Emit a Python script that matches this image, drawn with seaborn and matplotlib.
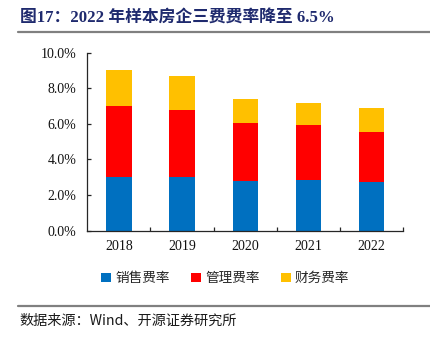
import matplotlib
matplotlib.use("Agg")
import matplotlib.pyplot as plt
from matplotlib.lines import Line2D
from matplotlib.patches import Patch
from matplotlib.ticker import FixedLocator, PercentFormatter
import numpy as np
import pandas as pd
import seaborn as sns

sns.set_theme(style="white")
plt.rcParams["font.family"] = ["Liberation Serif", "Noto Sans CJK SC", "DejaVu Sans"]

# 三费费率（%）
years = ["2018", "2019", "2020", "2021", "2022"]
selling = [3.00, 3.03, 2.77, 2.83, 2.72]
admin = [4.02, 3.77, 3.30, 3.09, 2.84]
finance = [1.99, 1.91, 1.31, 1.27, 1.35]

series_names = ["销售费率", "管理费率", "财务费率"]
colors = ["#0070C0", "#FF0000", "#FFC000"]

df = pd.DataFrame({"year": years, "selling": selling, "admin": admin, "finance": finance})
df["lvl1"] = df["selling"]
df["lvl2"] = df["lvl1"] + df["admin"]
df["lvl3"] = df["lvl2"] + df["finance"]

fig = plt.figure(figsize=(4.31, 3.40), dpi=100)
ax = fig.add_axes([0.2026, 0.3215, 0.7324, 0.5235])

# stacked bars: draw cumulative heights from the top layer down
for col, color in zip(["lvl3", "lvl2", "lvl1"], colors[::-1]):
    sns.barplot(data=df, x="year", y=col, color=color, width=0.4,
                saturation=1, ax=ax, edgecolor="none", linewidth=0)

ax.set_ylim(0, 10)
ax.set_xlim(-0.5, len(years) - 0.5)
ax.set_xlabel("")
ax.set_ylabel("")
ax.yaxis.set_major_locator(FixedLocator(np.arange(0, 10.01, 2)))
ax.yaxis.set_major_formatter(PercentFormatter(decimals=1))

for s in ["top", "right"]:
    ax.spines[s].set_visible(False)
for s in ["left", "bottom"]:
    ax.spines[s].set_color("#262626")
    ax.spines[s].set_linewidth(0.9)

ax.tick_params(axis="y", direction="in", length=3, width=0.9, color="#262626",
               labelsize=10, pad=8, left=True)
ax.tick_params(axis="x", which="major", length=0, labelsize=10, pad=7, bottom=True)
ax.xaxis.set_minor_locator(FixedLocator(np.arange(0.5, len(years), 1)))
ax.tick_params(axis="x", which="minor", direction="in", length=3, width=0.9,
               color="#262626", bottom=True)
for lab in ax.get_xticklabels() + ax.get_yticklabels():
    lab.set_color("#111111")

handles = [Patch(facecolor=c, edgecolor="none") for c in colors]
fig.legend(handles, series_names, loc="center", bbox_to_anchor=(0.523, 0.182),
           ncol=3, frameon=False, handlelength=0.7, handleheight=0.7,
           handletextpad=0.3, columnspacing=1.6,
           prop={"family": ["Noto Sans CJK SC"], "size": 9.8})

fig.text(0.046, 0.948, "图17：2022 年样本房企三费费率降至 6.5%", fontsize=12.1,
         fontweight="bold", color="#1F2A6E", va="center", ha="left")
fig.add_artist(Line2D([0.042, 1.0], [0.905, 0.905], color="#808080", linewidth=1.6))
fig.add_artist(Line2D([0.042, 1.0], [0.100, 0.100], color="#808080", linewidth=1.6))
fig.text(0.046, 0.058, "数据来源：Wind、开源证券研究所", fontsize=10.2,
         color="#1a1a1a", va="center", ha="left",
         family=["Noto Sans CJK SC", "DejaVu Sans"])

fig.savefig("out.png", dpi=100)
